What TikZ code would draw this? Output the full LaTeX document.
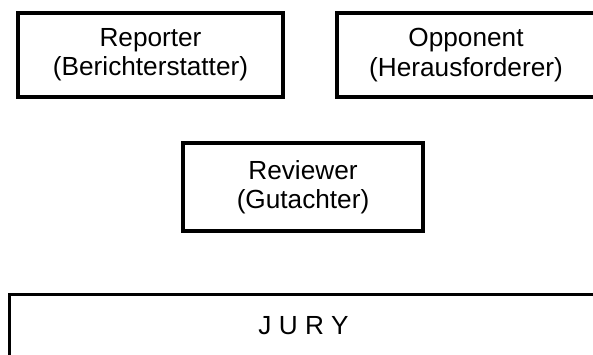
\documentclass[tikz,border=0pt]{standalone}
\usepackage{fontspec}
\setmainfont{Liberation Sans}
\usetikzlibrary{calc}
\tikzset{rolebox/.style={draw=black,line width=1.6pt,align=center,inner sep=0pt,
  font=\fontsize{13.1}{14.6}\selectfont}}

\begin{document}
\begin{tikzpicture}[x=0.5pt,y=-0.5pt]
\useasboundingbox (0,0) rectangle (593,354);
\clip (0,0) rectangle (593,354);

\node[rolebox,minimum width=132.5pt,minimum height=42pt] (reporter) at (150.5,55) {Reporter\\(Berichterstatter)};
\node[rolebox,minimum width=129pt,minimum height=42pt] (opponent) at (466,55) {Opponent\\(Herausforderer)};
\node[rolebox,minimum width=120pt,minimum height=44pt] (reviewer) at (303,187) {Reviewer\\(Gutachter)};

\node[rolebox,minimum width=294pt,text height=20pt,text depth=30pt,anchor=north west] (jury) at (8,293) {J U R Y};

\end{tikzpicture}
\end{document}
